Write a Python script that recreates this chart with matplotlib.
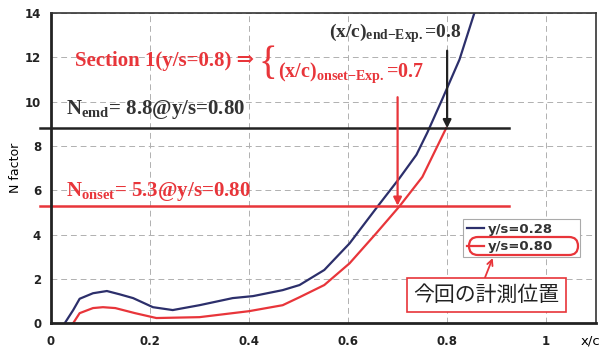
import matplotlib
matplotlib.use('Agg')
import matplotlib.pyplot as plt
from matplotlib.patches import FancyBboxPatch
from matplotlib.transforms import IdentityTransform

plt.rcParams['mathtext.fontset'] = 'custom'
plt.rcParams['mathtext.rm'] = 'Liberation Serif:bold'
plt.rcParams['mathtext.bf'] = 'Liberation Serif:bold'
plt.rcParams['mathtext.it'] = 'Liberation Serif:bold'

# N factor curves
x_028 = [0.028, 0.045, 0.058, 0.085, 0.113, 0.139, 0.166, 0.206, 0.246, 0.30,
         0.367, 0.408, 0.468, 0.502, 0.552, 0.603, 0.659, 0.704, 0.738, 0.76,
         0.79, 0.825, 0.855]
n_028 = [0.0, 0.59, 1.1, 1.35, 1.45, 1.3, 1.13, 0.72, 0.59, 0.81,
         1.13, 1.22, 1.49, 1.72, 2.4, 3.6, 5.25, 6.55, 7.6, 8.6,
         10.1, 11.9, 14.0]

x_080 = [0.045, 0.058, 0.085, 0.105, 0.13, 0.17, 0.213, 0.30, 0.40, 0.468,
         0.502, 0.552, 0.603, 0.657, 0.704, 0.75, 0.798]
n_080 = [0.0, 0.45, 0.68, 0.72, 0.68, 0.45, 0.23, 0.27, 0.54, 0.81,
         1.17, 1.72, 2.7, 4.06, 5.28, 6.6, 8.8]

n_end = 8.8
n_onset = 5.3
xc_end = 0.8
xc_onset = 0.7

x_ticks = [0, 0.2, 0.4, 0.6, 0.8, 1.0]
x_tick_labels = ['0', '0.2', '0.4', '0.6', '0.8', '1']
y_ticks = [0, 2, 4, 6, 8, 10, 12, 14]

navy = '#2c2f6b'
red = '#e8353a'
serif = ['Liberation Serif', 'DejaVu Serif']

fig = plt.figure(figsize=(6.06, 3.52), dpi=100)
ax = fig.add_axes([0.084, 0.082, 0.899, 0.881])

ax.plot(x_028, n_028, color=navy, lw=1.6, label='y/s=0.28')
ax.plot(x_080, n_080, color=red, lw=1.6, label='y/s=0.80')

ax.set_xlim(0, 1.1)
ax.set_ylim(0, 14)
ax.set_xticks(x_ticks)
ax.set_xticklabels(x_tick_labels)
ax.set_yticks(y_ticks)
ax.tick_params(length=0, labelsize=8.5)
ax.tick_params(axis='x', pad=8.5)
ax.tick_params(axis='y', pad=7)
for lab in ax.get_xticklabels() + ax.get_yticklabels():
    lab.set_fontweight('bold')
    lab.set_color('#222222')
ax.grid(True, color='#b0b0b0', ls=(0, (6, 4)), lw=0.7)

for side in ['left', 'bottom']:
    ax.spines[side].set_linewidth(2.0)
    ax.spines[side].set_color('#222222')
for side in ['top', 'right']:
    ax.spines[side].set_linewidth(1.2)
    ax.spines[side].set_color('#333333')

ax.set_ylabel('N factor', fontsize=9, labelpad=2)
ax.text(1.09, -0.8, 'x/c', fontsize=9.5, ha='center', va='center',
        clip_on=False)

# threshold lines, running a bit past the left axis
ax.plot([-0.022, 0.925], [n_end, n_end], color='#222222', lw=1.8, clip_on=False)
ax.plot([-0.022, 0.925], [n_onset, n_onset], color=red, lw=1.8, clip_on=False)

ax.text(0.03, 9.45, r'$\mathbf{N_{emd}}$= 8.8@y/s=0.80', family=serif,
        weight='bold', fontsize=15, color='#333333')
ax.text(0.03, 5.75, r'$\mathbf{N_{onset}}$= 5.3@y/s=0.80', family=serif,
        weight='bold', fontsize=15, color=red)

ax.text(0.048, 11.6, 'Section 1(y/s=0.8) \u21d2', family=serif, weight='bold',
        fontsize=15, color=red)
ax.text(0.42, 11.25, '{', family=serif, fontsize=28, color=red)
ax.text(0.562, 12.9, r'$\mathbf{(x/c)_{end{-}Exp.}}$=0.8', family=serif,
        weight='bold', fontsize=14, color='#333333')
ax.text(0.458, 11.1, r'$\mathbf{(x/c)_{onset{-}Exp.}}$=0.7', family=serif,
        weight='bold', fontsize=14.5, color=red)

ax.annotate('', xy=(xc_end, n_end), xytext=(xc_end, 12.3),
            arrowprops=dict(arrowstyle='-|>', color='#222222', lw=1.6,
                            mutation_scale=12, shrinkA=0, shrinkB=0))
ax.annotate('', xy=(xc_onset, n_onset), xytext=(xc_onset, 10.2),
            arrowprops=dict(arrowstyle='-|>', color=red, lw=1.6,
                            mutation_scale=12, shrinkA=0, shrinkB=0))

leg = ax.legend(loc='lower left', bbox_to_anchor=(0.756, 0.213, 0.215, 0.135),
                mode='expand', fontsize=9.5, handlelength=1.3, handletextpad=0.3,
                borderpad=0.3, labelspacing=0.35, fancybox=False,
                framealpha=1, edgecolor='#aaaaaa', borderaxespad=0)
for t in leg.get_texts():
    t.set_fontweight('bold')
    t.set_color('#333333')
leg.get_frame().set_linewidth(0.8)

# red ring around the y/s=0.80 entry (pixel coordinates)
ring = FancyBboxPatch((469, 97), 109, 18,
                      boxstyle='round,pad=0,rounding_size=9',
                      transform=IdentityTransform(), fill=False, ec=red,
                      lw=1.6, zorder=6)
fig.patches.append(ring)

ax.annotate('', xy=(0.892, 2.94), xytext=(0.876, 2.03),
            arrowprops=dict(arrowstyle='->', color=red, lw=1.3,
                            shrinkA=0, shrinkB=0), zorder=6)
ax.text(0.88, 1.26, '今回の計測位置', family=['Noto Sans CJK JP', 'DejaVu Sans'],
        fontsize=15, ha='center', va='center', color='#222222', zorder=7,
        bbox=dict(boxstyle='square,pad=0.3', fc='white', ec=red, lw=1.2))

fig.savefig('out.png', dpi=100)
